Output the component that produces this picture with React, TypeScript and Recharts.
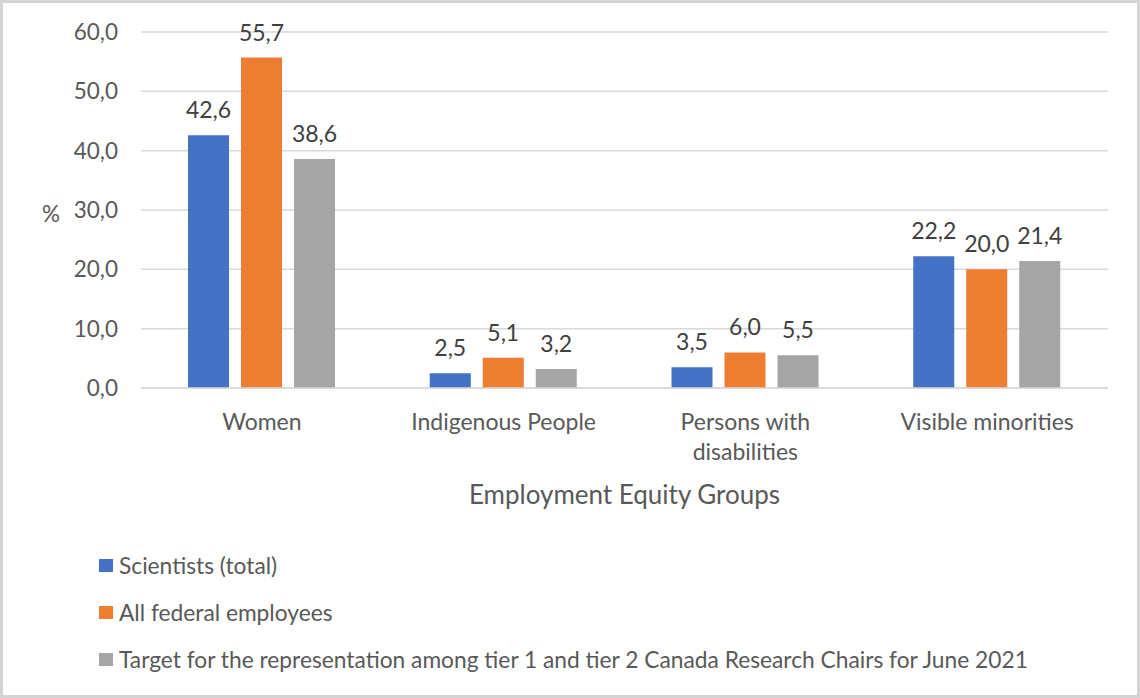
import { BarChart, Bar, XAxis, YAxis, CartesianGrid, Legend, LabelList } from 'recharts';

const groups = ['Women', 'Indigenous People', 'Persons with\ndisabilities', 'Visible minorities'];
const scientists = [42.6, 2.5, 3.5, 22.2];
const federalEmployees = [55.7, 5.1, 6.0, 20.0];
const crcTarget = [38.6, 3.2, 5.5, 21.4];
const yTicks = [0, 10, 20, 30, 40, 50, 60];

const SERIES = [
  { key: 'scientists', name: 'Scientists (total)', color: '#4472C4' },
  { key: 'federal', name: 'All federal employees', color: '#ED7D31' },
  {
    key: 'target',
    name: 'Target for the representation among tier 1 and tier 2 Canada Research Chairs for June 2021',
    color: '#A5A5A5',
  },
];

const FONT = 'Lato, "Open Sans", sans-serif';
const TEXT = '#595959';

const data = groups.map((group, i) => ({
  group,
  scientists: scientists[i],
  federal: federalEmployees[i],
  target: crcTarget[i],
}));

// Excel-style decimal comma
const fmt = (v: number) => v.toFixed(1).replace('.', ',');

function GroupTick({ x, y, payload }: any) {
  const lines = String(payload.value).split('\n');
  return (
    <text x={x} y={y} textAnchor="middle" fill={TEXT} fontSize={23} fontFamily={FONT}>
      {lines.map((line, i) => (
        <tspan key={i} x={x} dy={i === 0 ? 40 : 30}>
          {line}
        </tspan>
      ))}
    </text>
  );
}

function LegendList() {
  return (
    <div style={{ paddingTop: 2, paddingLeft: 99, fontFamily: FONT, fontSize: 22.75, color: TEXT }}>
      {SERIES.map((s) => (
        <div key={s.key} style={{ height: 47, display: 'flex', alignItems: 'center', whiteSpace: 'nowrap' }}>
          <span style={{ width: 14, height: 13, background: s.color, marginRight: 6, flexShrink: 0 }} />
          <span>{s.name}</span>
        </div>
      ))}
    </div>
  );
}

export default function App() {
  return (
    <div style={{ position: 'relative', width: 1140, height: 698, background: '#fff' }}>
      <style>{'body{margin:0}'}</style>
      <BarChart
        width={1140}
        height={698}
        data={data}
        margin={{ top: 32, right: 32, left: 0, bottom: 0 }}
        barSize={41}
        barGap={12}
      >
        <CartesianGrid vertical={false} stroke="#d9d9d9" strokeWidth={1.5} />
        <XAxis
          dataKey="group"
          height={152}
          tick={<GroupTick />}
          tickLine={false}
          tickSize={0}
          axisLine={{ stroke: '#d9d9d9', strokeWidth: 1.5 }}
          interval={0}
          label={{
            value: 'Employment Equity Groups',
            position: 'insideBottom',
            offset: 36,
            fill: TEXT,
            fontSize: 26,
            fontFamily: FONT,
          }}
        />
        <YAxis
          width={141}
          domain={[0, 60]}
          ticks={yTicks}
          tickFormatter={fmt}
          tickLine={false}
          tickSize={0}
          tickMargin={23}
          axisLine={false}
          tick={{ fill: TEXT, fontSize: 22.5, fontFamily: FONT }}
          label={{
            value: '%',
            position: 'insideLeft',
            offset: 42,
            dy: 4,
            fill: TEXT,
            fontSize: 22.5,
            fontFamily: FONT,
          }}
        />
        <Legend
          verticalAlign="bottom"
          align="left"
          content={<LegendList />}
          wrapperStyle={{ left: 0, bottom: 0, width: 1140, height: 158 }}
        />
        {SERIES.map((s) => (
          <Bar key={s.key} dataKey={s.key} name={s.name} fill={s.color} isAnimationActive={false}>
            <LabelList
              dataKey={s.key}
              position="top"
              offset={17}
              formatter={(v: any) => fmt(Number(v))}
              fill="#404040"
              fontSize={23}
              fontFamily={FONT}
            />
          </Bar>
        ))}
      </BarChart>
      <div
        style={{
          position: 'absolute',
          inset: 0,
          border: '3px solid #d4d4d4',
          pointerEvents: 'none',
        }}
      />
    </div>
  );
}
